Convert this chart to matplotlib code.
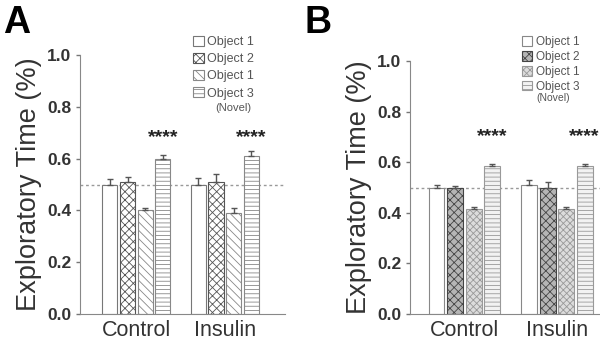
import matplotlib.pyplot as plt
import numpy as np

plt.rcParams['font.family'] = ['Liberation Sans', 'DejaVu Sans']
plt.rcParams['hatch.linewidth'] = 0.6

groups = ["Control", "Insulin"]
legend_labels = ["Object 1", "Object 2", "Object 1", "Object 3"]

# panel A: mean and sem per object, per group
a_means = [[0.50, 0.50], [0.51, 0.51], [0.40, 0.39], [0.60, 0.61]]
a_errs = [[0.020, 0.025], [0.020, 0.030], [0.010, 0.020], [0.015, 0.020]]

# panel B
b_means = [[0.50, 0.51], [0.50, 0.50], [0.415, 0.415], [0.585, 0.585]]
b_errs = [[0.010, 0.020], [0.005, 0.020], [0.010, 0.008], [0.010, 0.010]]

stars = "****"

fig = plt.figure(figsize=(6, 3.47), dpi=100)


def panel(ax, means, errs, fills, hatches, edges, xlim, star_y, leg_xy, leg_fs, leg_sp):
    x = np.arange(len(groups))
    offs = [-0.3, -0.1, 0.1, 0.3]
    w = 0.17
    handles = []
    for i in range(4):
        b = ax.bar(x + offs[i], means[i], w, color=fills[i], hatch=hatches[i],
                   edgecolor=edges[i], linewidth=0.8, zorder=2)
        ax.errorbar(x + offs[i], means[i], yerr=[[0, 0], errs[i]], fmt="none",
                    ecolor="#555555", elinewidth=1, capsize=2, capthick=1, zorder=3)
        handles.append(b)
    for g in range(len(groups)):
        ax.text(x[g] + offs[3], star_y, stars, ha="center", va="center",
                fontsize=14, fontweight="bold", color="#222222")
    ax.axhline(0.5, color="#999999", linestyle=(0, (2, 2)), linewidth=1, zorder=1)
    ax.set_xlim(*xlim)
    ax.set_ylim(0, 1.0)
    ax.set_yticks([0.0, 0.2, 0.4, 0.6, 0.8, 1.0])
    ax.set_yticklabels(["0.0", "0.2", "0.4", "0.6", "0.8", "1.0"],
                       fontsize=12.5, fontweight="bold", color="#333333")
    ax.set_xticks(x)
    ax.set_xticklabels(groups, fontsize=15.5, color="#333333")
    ax.tick_params(axis="x", length=0, pad=4)
    ax.tick_params(axis="y", length=3, width=1, color="#777777", pad=3)
    ax.spines["top"].set_visible(False)
    ax.spines["right"].set_visible(False)
    ax.spines["left"].set_color("#888888")
    ax.spines["bottom"].set_color("#888888")
    ax.set_ylabel("Exploratory Time (%)", fontsize=19.5, color="#333333", labelpad=4)
    leg = ax.legend(handles, legend_labels, loc="upper left",
                    bbox_to_anchor=leg_xy, bbox_transform=fig.transFigure,
                    frameon=False, fontsize=leg_fs,
                    handlelength=0.85, handleheight=0.85, handletextpad=0.3,
                    labelspacing=leg_sp, borderpad=0, borderaxespad=0)
    for t in leg.get_texts():
        t.set_color("#555555")
    return leg


axA = fig.add_axes([0.133, 0.095, 0.342, 0.746])
panel(axA, a_means, a_errs,
      ["white", "white", "white", "white"],
      ["", "xxxx", "\\\\\\\\", "----"],
      ["#777777", "#555555", "#888888", "#888888"],
      (-0.64, 1.68), 0.68, (193 / 600, 1 - 36 / 347), 9, 0.38)
fig.text(233 / 600, 1 - 108 / 347, "(Novel)", fontsize=8, color="#555555",
         ha="center", va="center")
fig.text(0.005, 0.985, "A", fontsize=27, fontweight="bold", va="top", ha="left")

axB = fig.add_axes([0.683, 0.095, 0.33, 0.729])
panel(axB, b_means, b_errs,
      ["white", "#b5b5b5", "#dcdcdc", "#f2f2f2"],
      ["", "xxxx", "xxxxx", "----"],
      ["#888888", "#444444", "#999999", "#999999"],
      (-0.59, 1.55), 0.70, (522 / 600, 1 - 36 / 347), 8.5, 0.25)
fig.text(553 / 600, 1 - 98 / 347, "(Novel)", fontsize=7.5, color="#555555",
         ha="center", va="center")
fig.text(0.508, 0.985, "B", fontsize=27, fontweight="bold", va="top", ha="left")

fig.savefig("out.png", dpi=100)
